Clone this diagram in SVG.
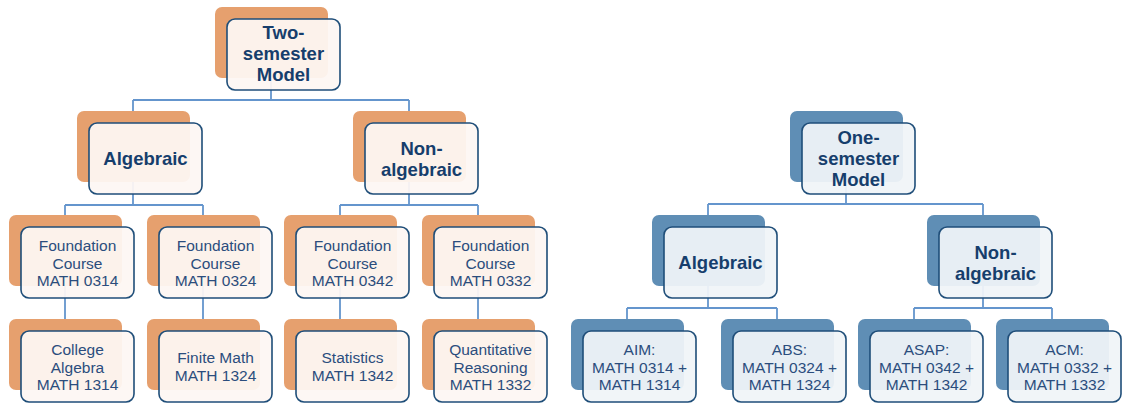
<svg xmlns="http://www.w3.org/2000/svg" width="1130" height="403" viewBox="0 0 1130 403">
<style>
.bo{fill:#E6A06E}
.bb{fill:#5F8EB5}
.fo{fill:#FDF7F3;fill-opacity:0.94;stroke:#1F4E79;stroke-width:1.6}
.fb{fill:#F0F4F8;fill-opacity:0.94;stroke:#1F4E79;stroke-width:1.6}
.t{font-family:"Liberation Sans",Arial,sans-serif;text-anchor:middle}
.h{font-size:18.5px;font-weight:bold;fill:#163E6C}
.r{font-size:15.5px;fill:#2B4D7D}
.c{fill:none;stroke:#6495CD;stroke-width:1.8}
</style>
<rect width="1130" height="403" fill="#FFFFFF"/>
<g id="connectors" class="c">
<path d="M271,60V100M133,100H409M133,100V111M409,100V111"/>
<path d="M133,160V205M65,205H203M65,205V215M203,205V215"/>
<path d="M409,160V205M340,205H478M340,205V215M478,205V215"/>
<path d="M65,260V319M203,260V319M340,260V319M478,260V319"/>
<path d="M846,160V204M708,204H983M708,204V215M983,204V215"/>
<path d="M708,260V308M627,308H777M627,308V319M777,308V319"/>
<path d="M983,260V308M914,308H1052M914,308V319M1052,308V319"/>
</g>
<g id="two-semester">
<rect class="bo" x="215" y="7" width="113" height="71" rx="7"/>
<rect class="fo" x="227" y="19" width="113" height="71" rx="8"/>
<text class="t h" x="283.5" y="39">Two-</text>
<text class="t h" x="283.5" y="60">semester</text>
<text class="t h" x="283.5" y="81">Model</text>
</g>
<g id="algebraic-left">
<rect class="bo" x="77" y="111" width="113" height="71" rx="7"/>
<rect class="fo" x="89" y="123" width="113" height="71" rx="8"/>
<text class="t h" x="145.5" y="165">Algebraic</text>
</g>
<g id="nonalgebraic-left">
<rect class="bo" x="353" y="111" width="113" height="71" rx="7"/>
<rect class="fo" x="365" y="123" width="113" height="71" rx="8"/>
<text class="t h" x="421.5" y="155">Non-</text>
<text class="t h" x="421.5" y="176">algebraic</text>
</g>
<g id="f0314">
<rect class="bo" x="9" y="215" width="113" height="71" rx="7"/>
<rect class="fo" x="21" y="227" width="113" height="71" rx="8"/>
<text class="t r" x="77.5" y="251">Foundation</text>
<text class="t r" x="77.5" y="268.5">Course</text>
<text class="t r" x="77.5" y="286">MATH 0314</text>
</g>
<g id="f0324">
<rect class="bo" x="147" y="215" width="113" height="71" rx="7"/>
<rect class="fo" x="159" y="227" width="113" height="71" rx="8"/>
<text class="t r" x="215.5" y="251">Foundation</text>
<text class="t r" x="215.5" y="268.5">Course</text>
<text class="t r" x="215.5" y="286">MATH 0324</text>
</g>
<g id="f0342">
<rect class="bo" x="284" y="215" width="113" height="71" rx="7"/>
<rect class="fo" x="296" y="227" width="113" height="71" rx="8"/>
<text class="t r" x="352.5" y="251">Foundation</text>
<text class="t r" x="352.5" y="268.5">Course</text>
<text class="t r" x="352.5" y="286">MATH 0342</text>
</g>
<g id="f0332">
<rect class="bo" x="422" y="215" width="113" height="71" rx="7"/>
<rect class="fo" x="434" y="227" width="113" height="71" rx="8"/>
<text class="t r" x="490.5" y="251">Foundation</text>
<text class="t r" x="490.5" y="268.5">Course</text>
<text class="t r" x="490.5" y="286">MATH 0332</text>
</g>
<g id="college-algebra">
<rect class="bo" x="9" y="319" width="113" height="71" rx="7"/>
<rect class="fo" x="21" y="331" width="113" height="71" rx="8"/>
<text class="t r" x="77.5" y="355">College</text>
<text class="t r" x="77.5" y="372.5">Algebra</text>
<text class="t r" x="77.5" y="390">MATH 1314</text>
</g>
<g id="finite-math">
<rect class="bo" x="147" y="319" width="113" height="71" rx="7"/>
<rect class="fo" x="159" y="331" width="113" height="71" rx="8"/>
<text class="t r" x="215.5" y="363">Finite Math</text>
<text class="t r" x="215.5" y="380.5">MATH 1324</text>
</g>
<g id="statistics">
<rect class="bo" x="284" y="319" width="113" height="71" rx="7"/>
<rect class="fo" x="296" y="331" width="113" height="71" rx="8"/>
<text class="t r" x="352.5" y="363">Statistics</text>
<text class="t r" x="352.5" y="380.5">MATH 1342</text>
</g>
<g id="quantitative-reasoning">
<rect class="bo" x="422" y="319" width="113" height="71" rx="7"/>
<rect class="fo" x="434" y="331" width="113" height="71" rx="8"/>
<text class="t r" x="490.5" y="355">Quantitative</text>
<text class="t r" x="490.5" y="372.5">Reasoning</text>
<text class="t r" x="490.5" y="390">MATH 1332</text>
</g>
<g id="one-semester">
<rect class="bb" x="790" y="111" width="113" height="71" rx="7"/>
<rect class="fb" x="802" y="123" width="113" height="71" rx="8"/>
<text class="t h" x="858.5" y="144">One-</text>
<text class="t h" x="858.5" y="165">semester</text>
<text class="t h" x="858.5" y="186">Model</text>
</g>
<g id="algebraic-right">
<rect class="bb" x="652" y="215" width="113" height="71" rx="7"/>
<rect class="fb" x="664" y="227" width="113" height="71" rx="8"/>
<text class="t h" x="720.5" y="269">Algebraic</text>
</g>
<g id="nonalgebraic-right">
<rect class="bb" x="927" y="215" width="113" height="71" rx="7"/>
<rect class="fb" x="939" y="227" width="113" height="71" rx="8"/>
<text class="t h" x="995.5" y="259">Non-</text>
<text class="t h" x="995.5" y="280">algebraic</text>
</g>
<g id="aim">
<rect class="bb" x="571" y="319" width="113" height="71" rx="7"/>
<rect class="fb" x="583" y="331" width="113" height="71" rx="8"/>
<text class="t r" x="639.5" y="355">AIM:</text>
<text class="t r" x="639.5" y="372.5">MATH 0314 +</text>
<text class="t r" x="639.5" y="390">MATH 1314</text>
</g>
<g id="abs">
<rect class="bb" x="721" y="319" width="113" height="71" rx="7"/>
<rect class="fb" x="733" y="331" width="113" height="71" rx="8"/>
<text class="t r" x="789.5" y="355">ABS:</text>
<text class="t r" x="789.5" y="372.5">MATH 0324 +</text>
<text class="t r" x="789.5" y="390">MATH 1324</text>
</g>
<g id="asap">
<rect class="bb" x="858" y="319" width="113" height="71" rx="7"/>
<rect class="fb" x="870" y="331" width="113" height="71" rx="8"/>
<text class="t r" x="926.5" y="355">ASAP:</text>
<text class="t r" x="926.5" y="372.5">MATH 0342 +</text>
<text class="t r" x="926.5" y="390">MATH 1342</text>
</g>
<g id="acm">
<rect class="bb" x="996" y="319" width="113" height="71" rx="7"/>
<rect class="fb" x="1008" y="331" width="113" height="71" rx="8"/>
<text class="t r" x="1064.5" y="355">ACM:</text>
<text class="t r" x="1064.5" y="372.5">MATH 0332 +</text>
<text class="t r" x="1064.5" y="390">MATH 1332</text>
</g>
</svg>
